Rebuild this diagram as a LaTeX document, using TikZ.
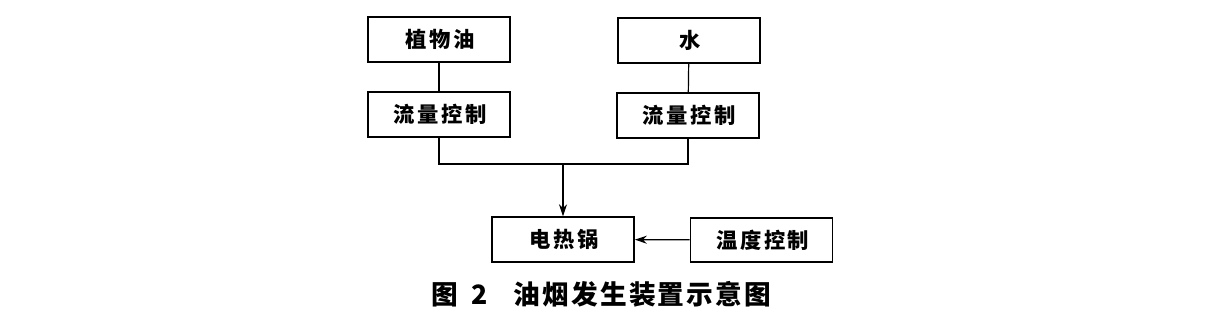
\documentclass[tikz,border=0pt]{standalone}
\usepackage{fontspec}
\newfontfamily\cjk{Noto Sans CJK SC}[LetterSpace=12]
\newfontfamily\cjkcap{Noto Sans CJK SC}[LetterSpace=8]
\usetikzlibrary{arrows.meta}

\tikzset{
  unitbox/.style={draw,line width=1.3pt,minimum width=106.5pt,minimum height=33.5pt,
    inner sep=0pt,font=\cjk\bfseries\fontsize{16}{16}\selectfont,
    execute at end node={\kern-0.12em}},
  pipe/.style={line width=0.9pt}
}

\begin{document}
\begin{tikzpicture}[x=0.75pt,y=-0.75pt]
\useasboundingbox (0,0) rectangle (1213,327);

\node[unitbox] (oil) at (439,39.5) {植物油};
\node[unitbox] (water) at (689,40.5) {水};

\node[unitbox] (flowL) at (439,114.5) {流量控制};
\node[unitbox] (flowR) at (688,115.5) {流量控制};

\node[unitbox] (pot) at (563,239.5) {电热锅};
\node[unitbox] (temp) at (761.5,240) {温度控制};

\coordinate (join) at (563,164);

\draw[pipe] (oil) -- (flowL);
\draw[pipe] (water) -- (flowR);
\draw[pipe] (flowL) |- (join) -| (flowR);
\draw[pipe,-{Stealth[length=9pt,width=6pt]}] (join) -- (pot);
\draw[pipe,-{Stealth[length=9pt,width=6pt]}] (temp) -- (pot);

\node[font=\cjkcap\bfseries\fontsize{20}{20}\selectfont] (cap) at (600,294)
  {图\enspace 2\quad 油烟发生装置示意图\kern-0.08em};
\end{tikzpicture}
\end{document}
